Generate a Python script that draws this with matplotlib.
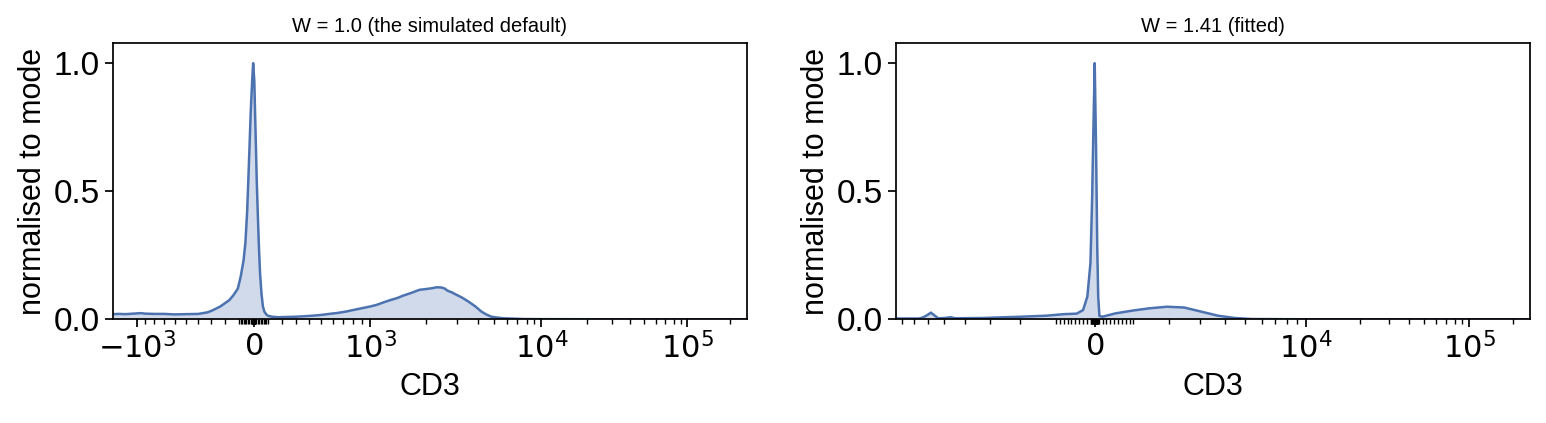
import numpy as np
import matplotlib
matplotlib.use("Agg")
import matplotlib.pyplot as plt
from matplotlib.ticker import FixedLocator, FixedFormatter

plt.rcParams['font.family'] = ['Liberation Sans', 'DejaVu Sans']
plt.rcParams['mathtext.fontset'] = 'dejavusans'

# ---------------- data ----------------
titles = ["W = 1.0 (the simulated default)", "W = 1.41 (fitted)"]
W_values = [1.0, 1.41]
T_top = 262144.0
M_decades = 4.5
channel = "CD3"
ylabel = "normalised to mode"

cd3_left = [-1357, -1250, -1150, -1050, -950, -900, -800, -700, -600, -500, -400,
            -330, -300, -235, -170, -140, -110, -90, -70, -57, -45, -37, -28,
            -20, -10, -3, 5, 10, 16, 22, 30, 36, 45, 55, 65, 75, 90, 104, 130,
            170, 230, 300, 370, 430, 500, 570, 650, 725, 800, 895, 1000, 1080,
            1180, 1285, 1400, 1500, 1650, 1845, 2000, 2150, 2300, 2450, 2550,
            2640, 2800, 2930, 3200, 3500, 3850, 4180, 4500, 4810, 5650, 7700,
            10000, 30000, 100000, 262144]
mode_left = [0.020, 0.021, 0.020, 0.022, 0.024, 0.022, 0.021, 0.021, 0.019, 0.020, 0.021,
             0.027, 0.033, 0.050, 0.075, 0.095, 0.120, 0.167, 0.230, 0.300, 0.420, 0.540, 0.680,
             0.810, 0.930, 1.000, 0.930, 0.810, 0.680, 0.540, 0.400, 0.300, 0.180, 0.100, 0.050, 0.030, 0.018, 0.013, 0.010,
             0.008, 0.009, 0.010, 0.012, 0.014, 0.017, 0.021, 0.025, 0.030, 0.036, 0.043, 0.050, 0.056,
             0.066, 0.075, 0.083, 0.092, 0.102, 0.115, 0.118, 0.121, 0.125, 0.124, 0.120,
             0.112, 0.105, 0.098, 0.085, 0.069, 0.050, 0.030, 0.018, 0.010, 0.004, 0.001,
             0.0005, 0.0, 0.0, 0.0]

cd3_right = [-8808, -7500, -6610, -6308, -6022, -5801, -5613, -5357, -5000, -4663, -4450,
             -3265, -1986, -1256, -797, -463, -298, -188, -109, -65, -34, 0, 34, 65,
             89, 120, 198, 531, 981, 1444, 1935, 2463, 3047, 3705, 4470, 5381,
             10000, 100000, 262144]
mode_right = [0.003, 0.003, 0.003, 0.008, 0.017, 0.026, 0.017, 0.004, 0.005, 0.008, 0.004,
              0.005, 0.010, 0.014, 0.020, 0.022, 0.036, 0.089, 0.220, 0.480, 0.740, 1.000, 0.670, 0.280,
              0.090, 0.013, 0.010, 0.023, 0.034, 0.043, 0.049, 0.046, 0.030, 0.014, 0.005, 0.001,
              0.0, 0.0, 0.0]

major_left = [-1e3, 0, 1e3, 1e4, 1e5]
major_left_labels = [r"$-10^{3}$", r"$0$", r"$10^{3}$", r"$10^{4}$", r"$10^{5}$"]
major_right = [0, 1e4, 1e5]
major_right_labels = [r"$0$", r"$10^{4}$", r"$10^{5}$"]
yticks = [0.0, 0.5, 1.0]
ytick_labels = ["0.0", "0.5", "1.0"]

line_color = "#4c72b0"


# ---------------- logicle transform ----------------
def make_logicle(T, W, M, A=0.0):
    b = (M + A) * np.log(10.0)
    w = W / (M + A)
    x2 = A / (M + A)
    x1 = x2 + w
    x0 = x2 + 2 * w
    lo, hi = 1e-12, b
    for _ in range(200):
        mid = 0.5 * (lo + hi)
        val = 2 * (np.log(mid) - np.log(b)) + w * (b + mid)
        if val > 0:
            hi = mid
        else:
            lo = mid
    d = 0.5 * (lo + hi)
    c_a = np.exp(x0 * (b + d))
    mf_a = np.exp(b * x1) - c_a / np.exp(d * x1)
    a = T / ((np.exp(b) - mf_a) - c_a / np.exp(d))
    c = c_a * a
    f = -mf_a * a

    def g(x):
        return a * np.exp(b * x) - c * np.exp(-d * x) + f

    def S(x):
        x = np.asarray(x, dtype=float)
        return np.where(x >= x1, g(np.maximum(x, x1)), -g(np.maximum(2 * x1 - x, x1)))

    grid = np.linspace(-0.4, 1.4, 200001)
    sgrid = S(grid)

    def forward(v):
        return np.interp(v, sgrid, grid)

    def inverse(dv):
        return S(dv)

    return forward, inverse


fig = plt.figure(figsize=(15.46, 4.23), dpi=100)
axes = [fig.add_axes([0.0729, 0.2452, 0.4101, 0.6539]),
        fig.add_axes([0.5796, 0.2452, 0.4101, 0.6539])]

datasets = [(cd3_left, mode_left, major_left, major_left_labels),
            (cd3_right, mode_right, major_right, major_right_labels)]

for ax, title, Wv, (xs, ys, majors, mlabels) in zip(axes, titles, W_values, datasets):
    fwd, inv = make_logicle(T_top, Wv, M_decades)
    ax.set_xscale('function', functions=(fwd, inv))
    lo_lim, hi_lim = float(inv(0.0)), float(inv(1.0))
    ax.fill_between(xs, ys, 0, color=line_color, alpha=0.26, linewidth=0)
    ax.plot(xs, ys, color=line_color, linewidth=1.8)
    ax.set_xlim(lo_lim, hi_lim)
    ax.set_ylim(0, 1.08)

    minors = []
    for k in range(0, 6):
        for j in range(1, 10):
            for s in (1, -1):
                v = s * j * 10.0 ** k
                if lo_lim <= v <= hi_lim and v not in majors:
                    minors.append(v)
    ax.xaxis.set_major_locator(FixedLocator(majors))
    ax.xaxis.set_major_formatter(FixedFormatter(mlabels))
    ax.xaxis.set_minor_locator(FixedLocator(sorted(minors)))
    ax.set_yticks(yticks)
    ax.set_yticklabels(ytick_labels)

    ax.tick_params(axis='x', which='major', labelsize=22, length=6, width=1.25, direction='out')
    ax.tick_params(axis='y', which='major', labelsize=24, length=6, width=1.25, direction='out')
    ax.tick_params(axis='x', which='minor', length=3.5, width=1.0)
    for sp in ax.spines.values():
        sp.set_linewidth(1.25)
    ax.set_title(title, fontsize=14.5, pad=8)
    ax.set_xlabel(channel, fontsize=22, labelpad=5)
    ax.set_ylabel(ylabel, fontsize=22, labelpad=4)

fig.savefig("out.png", dpi=100)
